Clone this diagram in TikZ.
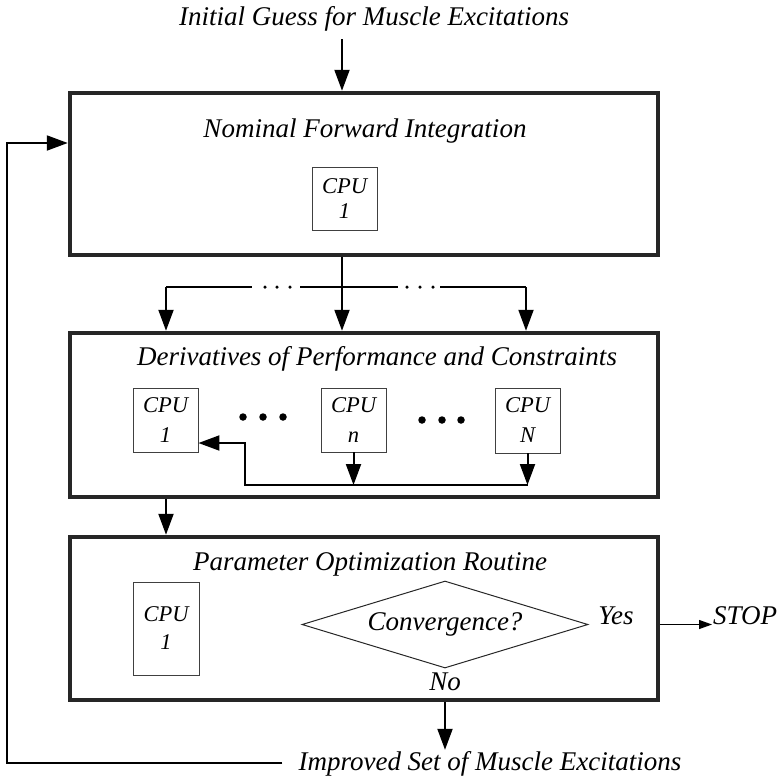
\documentclass[tikz,border=0pt]{standalone}
\usepackage{fontspec}
\setmainfont{Liberation Serif}
\usetikzlibrary{arrows.meta,shapes.geometric}
\begin{document}
\begin{tikzpicture}[x=1pt,y=-1pt,
  bigbox/.style={draw=black!85,line width=4.5pt,inner sep=0pt,minimum width=588pt,minimum height=162pt},
  cpubox/.style={draw=black!75,line width=0.9pt,inner sep=0pt,minimum width=65pt,align=center,font=\itshape\fontsize{22.5}{30}\selectfont},
  lbl/.style={font=\itshape\fontsize{27}{30}\selectfont,inner sep=1pt},
  conn/.style={line width=2pt},
  arr/.style={line width=2pt,-{Triangle[length=21pt,width=15pt]}},
  arrS/.style={line width=1.2pt,-{Triangle[length=13pt,width=9pt]}},
  bigdot/.style={circle,fill=black,inner sep=0pt,minimum size=7.5pt},
  smalldot/.style={circle,fill=black,inner sep=0pt,minimum size=3.5pt},
  decision/.style={diamond,draw=black!85,line width=1pt,inner sep=0pt,minimum width=286pt,minimum height=87pt,aspect=3.29,font=\itshape\fontsize{27}{30}\selectfont}
]
\useasboundingbox (0,0) rectangle (778,777);

% main boxes
\node[bigbox] (box1) at (364,174) {};
\node[bigbox,minimum height=164pt] (box2) at (364,415) {};
\node[bigbox,minimum height=163pt] (box3) at (364,618.5) {};

% labels
\node[lbl,anchor=base] (initial) at (374,25) {Initial Guess for Muscle Excitations};
\node[lbl,anchor=base] (nominal) at (365,137) {Nominal Forward Integration};
\node[lbl,anchor=base] (deriv) at (377,365) {Derivatives of Performance and Constraints};
\node[lbl,anchor=base] (param) at (370,570) {Parameter Optimization Routine};
\node[lbl,anchor=base] (improved) at (490,770) {Improved Set of Muscle Excitations};
\node[lbl,anchor=base] (yes) at (616,624) {Yes};
\node[lbl,anchor=base] (no) at (445,690) {No};
\node[lbl,anchor=base west] (stop) at (712,624) {STOP};

% CPU boxes
\node[cpubox,minimum height=63pt,font=\itshape\fontsize{22.5}{25}\selectfont] (cpuA) at (344.5,198.5) {CPU\\1};
\node[cpubox,minimum height=64pt] (cpu1) at (165.5,420) {CPU\\1};
\node[cpubox,minimum height=64pt] (cpun) at (353.5,420) {CPU\\n};
\node[cpubox,minimum height=65pt] (cpuN) at (527.5,420.5) {CPU\\N};
\node[cpubox,minimum height=93pt,minimum width=66pt,font=\itshape\fontsize{22.5}{28}\selectfont] (cpuB) at (166,628.5) {CPU\\1};

% big dots in box 2
\node[bigdot] (b1) at (243,417) {};
\node[bigdot] (b2) at (263,417) {};
\node[bigdot] (b3) at (283,417) {};
\node[bigdot] (b4) at (422,420) {};
\node[bigdot] (b5) at (442,420) {};
\node[bigdot] (b6) at (461,420) {};

% decision
\node[decision] (dia) at (445,624.5) {Convergence?};

% input arrow
\coordinate (a0) at (342,39);
\draw[arr] (a0) -- (a0 |- box1.north);

% box1 -> box2 with branches
\coordinate (bl) at (166,287);
\coordinate (br) at (526,287);
\coordinate (g1a) at (252,287);
\coordinate (g1b) at (300,287);
\coordinate (g2a) at (398,287);
\coordinate (g2b) at (440,287);
\node[smalldot] (s1) at (265,287) {};
\node[smalldot] (s2) at (277,287) {};
\node[smalldot] (s3) at (290,287) {};
\node[smalldot] (s4) at (407,287) {};
\node[smalldot] (s5) at (420,287) {};
\node[smalldot] (s6) at (433,287) {};
\draw[conn] (bl) -- (g1a);
\draw[conn] (g1b) -- (g2a);
\draw[conn] (g2b) -- (br);
\draw[arr] (box1.south -| a0) -- (box2.north -| a0);
\draw[arr] (bl) -- (bl |- box2.north);
\draw[arr] (br) -- (br |- box2.north);

% internal feedback in box2
\coordinate (fbR) at (527.5,485);
\coordinate (fbL) at (245,485);
\coordinate (fbT) at (245,443);
\draw[arr] (cpun.south) -- (cpun.south |- fbR);
\draw[arr] (cpuN.south) -- (cpuN.south |- fbR);
\draw[arr] (fbR) -- (fbL) -- (fbT) -- (fbT -| cpu1.east);

% box2 -> box3
\draw[arr] (box2.south -| bl) -- (box3.north -| bl);

% stop arrow
\draw[arrS] (box3.east |- dia.center) -- (dia.center -| stop.west);

% no arrow
\draw[arr] (box3.south -| dia.center) -- (improved.north -| dia.center);

% outer feedback
\coordinate (fb1) at (7,763);
\coordinate (fb2) at (7,143);
\draw[arr,shorten <=15pt] (improved.west |- fb1) -- (fb1) -- (fb2) -- (fb2 -| box1.west);
\end{tikzpicture}
\end{document}
